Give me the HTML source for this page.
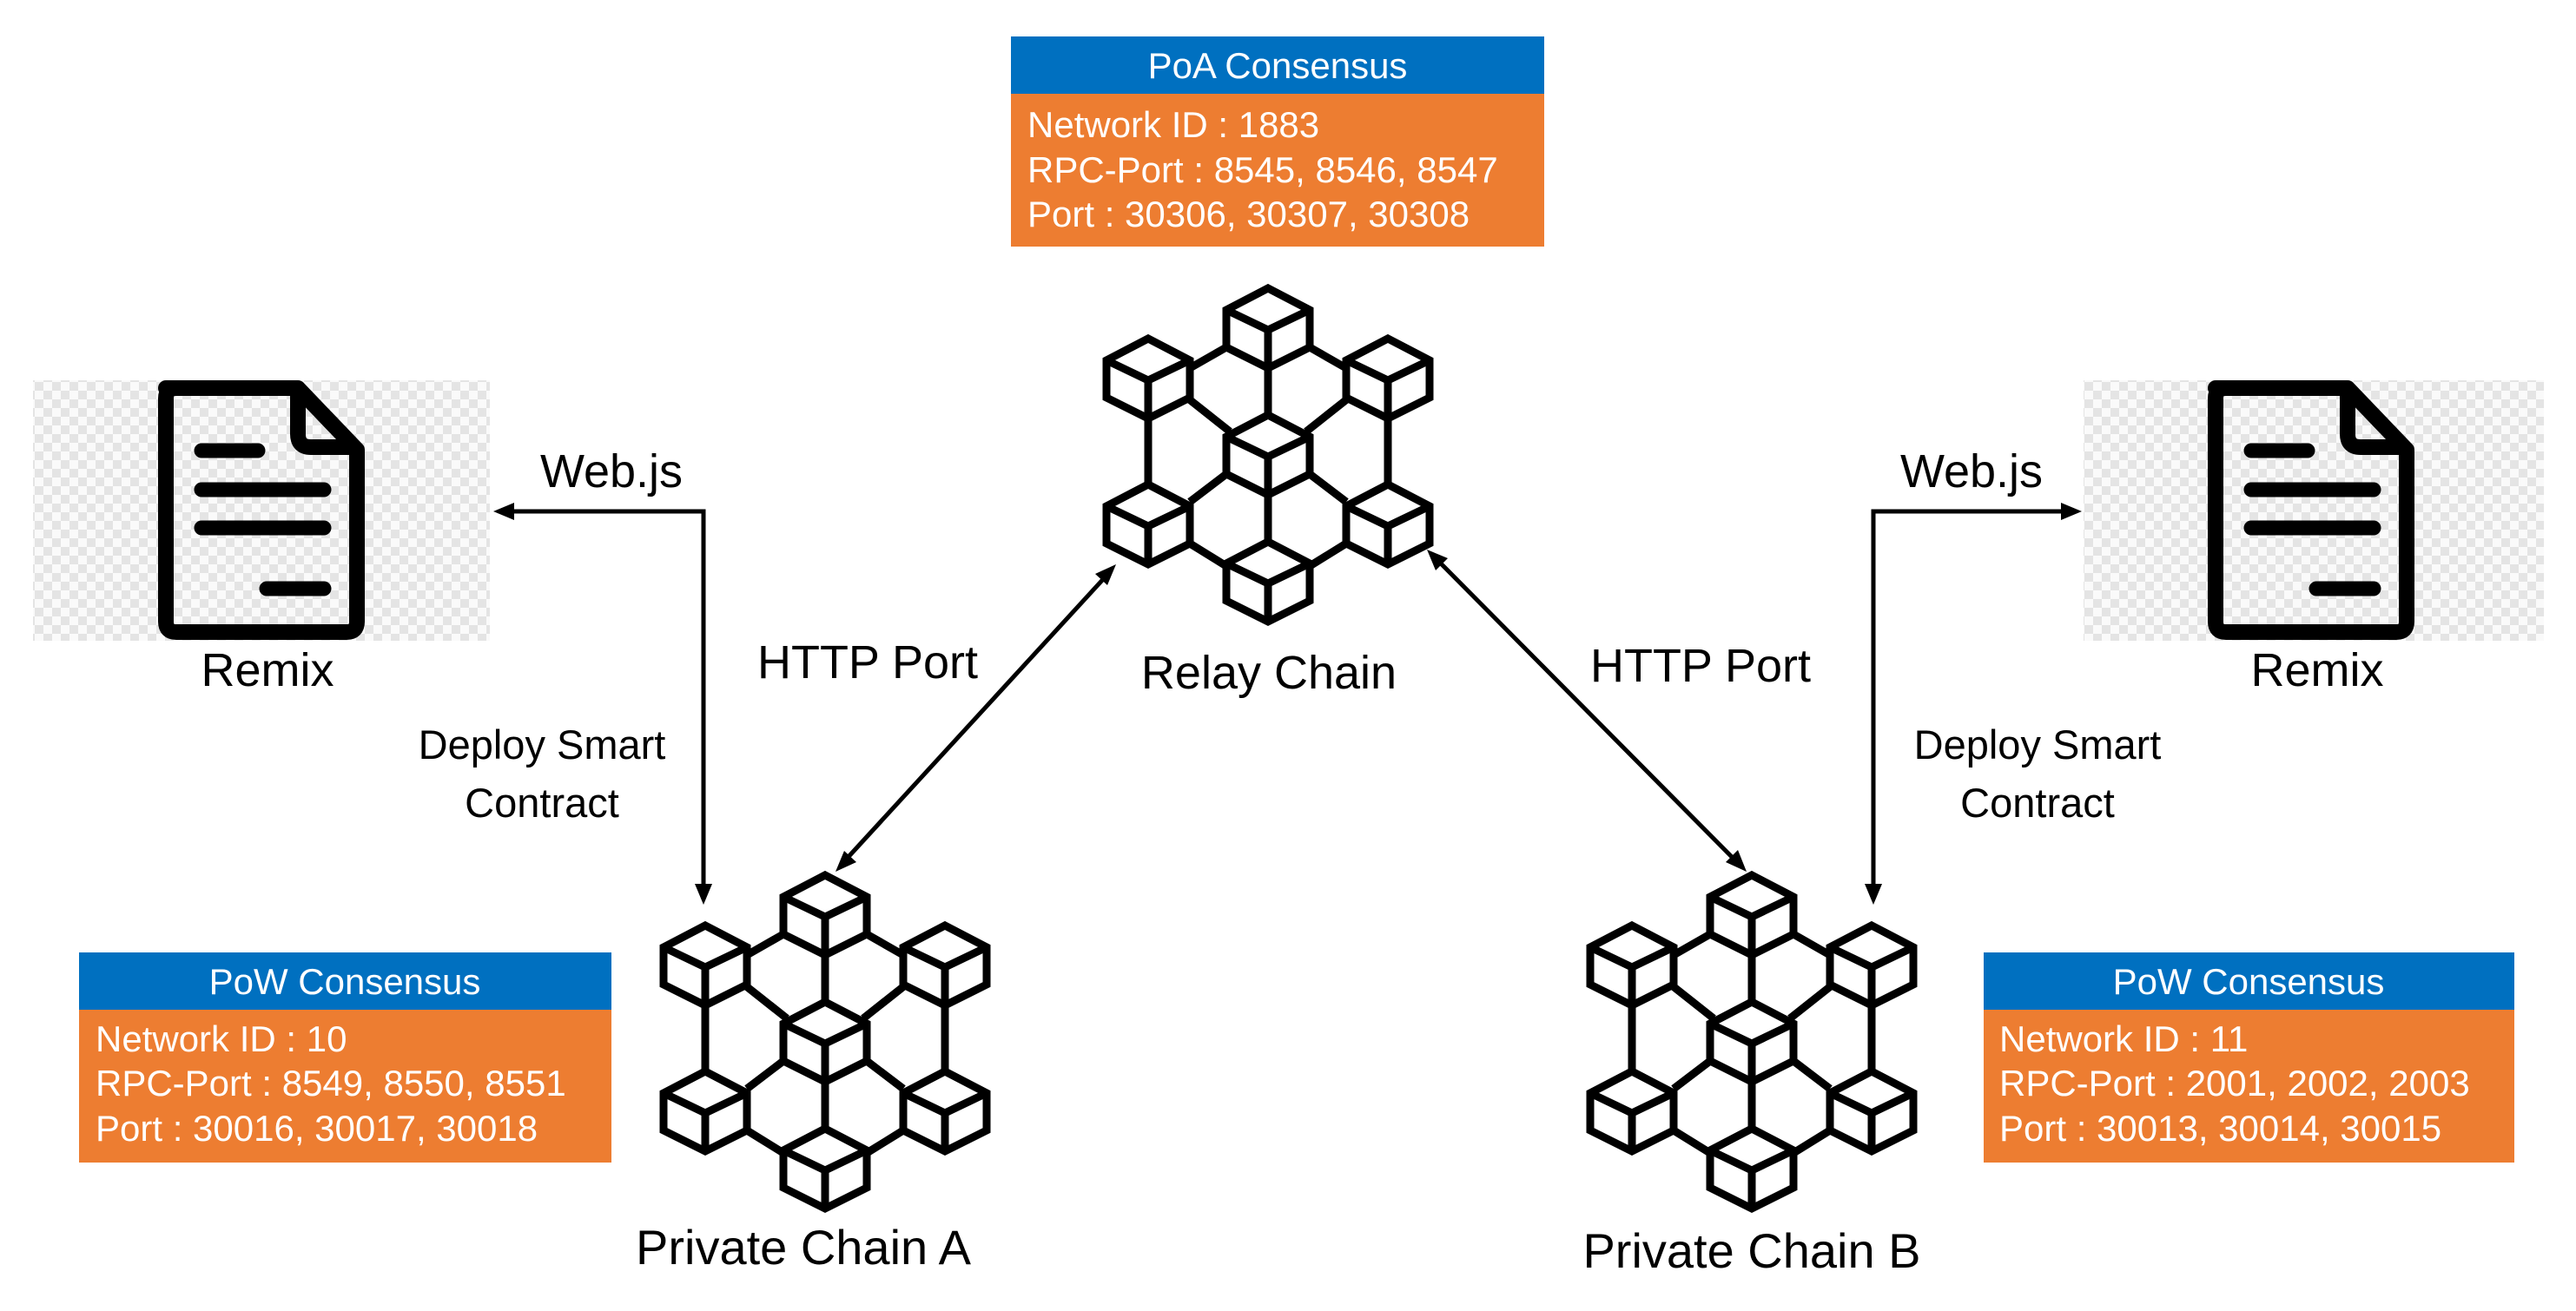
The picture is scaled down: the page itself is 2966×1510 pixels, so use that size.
<!DOCTYPE html>
<html><head><meta charset="utf-8"><style>
html,body{margin:0;padding:0;background:#fff;}
body{width:2966px;height:1505px;overflow:hidden;}
svg text{font-family:"Liberation Sans",sans-serif;}
</style></head><body>
<svg width="2966" height="1505" viewBox="0 0 2966 1505" xmlns="http://www.w3.org/2000/svg">
<defs>
<pattern id="chk" width="20" height="20" patternUnits="userSpaceOnUse">
<rect width="20" height="20" fill="#fafafa"/>
<rect width="10" height="10" fill="#e4e4e4"/>
<rect x="10" y="10" width="10" height="10" fill="#e4e4e4"/>
</pattern>
<g id="cube">
<path d="M0,0 L48,25 L48,68 L0,92 L-48,68 L-48,25 Z" fill="#fff" stroke="#000" stroke-width="9" stroke-linejoin="miter"/>
<path d="M-48,25 L0,48 L48,25 M0,48 L0,92" fill="none" stroke="#000" stroke-width="9"/>
</g>
<g id="chain">
<g stroke="#000" stroke-width="9" fill="none">
<path d="M-48,68 L-90,92 M48,68 L90,92 M0,92 L0,146 M-92,127 L-44,165 M92,127 L44,165 M-138,150 L-138,226 M138,150 L138,226 M-48,214 L-90,246 M48,214 L90,246 M0,238 L0,292 M-90,294 L-48,320 M90,294 L48,320"/>
</g>
<use href="#cube" x="0" y="0"/>
<use href="#cube" x="-138" y="58"/>
<use href="#cube" x="138" y="58"/>
<use href="#cube" x="0" y="146"/>
<use href="#cube" x="-138" y="226"/>
<use href="#cube" x="138" y="226"/>
<use href="#cube" x="0" y="292"/>
</g>
<g id="doc">
<path d="M191,447 L343,447 L411,518 L411,716 Q411,728 399,728 L203,728 Q191,728 191,716 L191,459 Q191,447 203,447 Z" fill="none" stroke="#000" stroke-width="18" stroke-linejoin="round"/>
<path d="M343,447 L343,500 Q343,515 358,515 L411,515" fill="none" stroke="#000" stroke-width="18" stroke-linejoin="round"/>
<g stroke="#000" stroke-width="17" stroke-linecap="round">
<line x1="232" y1="519" x2="297" y2="519"/>
<line x1="232" y1="564" x2="373" y2="564"/>
<line x1="232" y1="608" x2="373" y2="608"/>
<line x1="307" y1="678" x2="373" y2="678"/>
</g>
</g>
</defs>

<rect x="1164" y="42" width="614" height="66" fill="#0070C0"/>
<rect x="1164" y="108" width="614" height="176" fill="#ED7D31"/>
<text x="1471" y="90" font-size="42" fill="#fff" text-anchor="middle">PoA Consensus</text>
<text x="1183" y="158" font-size="42" fill="#fff">Network ID : 1883</text>
<text x="1183" y="210" font-size="42" fill="#fff">RPC-Port : 8545, 8546, 8547</text>
<text x="1183" y="261" font-size="42" fill="#fff">Port : 30306, 30307, 30308</text>

<rect x="91" y="1097" width="613" height="66" fill="#0070C0"/>
<rect x="91" y="1163" width="613" height="176" fill="#ED7D31"/>
<text x="397" y="1145" font-size="42" fill="#fff" text-anchor="middle">PoW Consensus</text>
<text x="110" y="1211" font-size="42" fill="#fff">Network ID : 10</text>
<text x="110" y="1262" font-size="42" fill="#fff">RPC-Port : 8549, 8550, 8551</text>
<text x="110" y="1314" font-size="42" fill="#fff">Port : 30016, 30017, 30018</text>

<rect x="2284" y="1097" width="611" height="66" fill="#0070C0"/>
<rect x="2284" y="1163" width="611" height="176" fill="#ED7D31"/>
<text x="2589" y="1145" font-size="42" fill="#fff" text-anchor="middle">PoW Consensus</text>
<text x="2302" y="1211" font-size="42" fill="#fff">Network ID : 11</text>
<text x="2302" y="1262" font-size="42" fill="#fff">RPC-Port : 2001, 2002, 2003</text>
<text x="2302" y="1314" font-size="42" fill="#fff">Port : 30013, 30014, 30015</text>

<rect x="38" y="438" width="526" height="300" fill="url(#chk)"/>
<use href="#doc"/>
<text x="308" y="790" font-size="54" text-anchor="middle">Remix</text>
<rect x="2399" y="438" width="530" height="300" fill="url(#chk)"/>
<use href="#doc" x="2360"/>
<text x="2668" y="790" font-size="54" text-anchor="middle">Remix</text>

<use href="#chain" transform="translate(1460,332)"/>
<text x="1461" y="793" font-size="54" text-anchor="middle">Relay Chain</text>
<use href="#chain" transform="translate(950,1008)"/>
<text x="925" y="1456" font-size="56" text-anchor="middle">Private Chain A</text>
<use href="#chain" transform="translate(2017,1008)"/>
<text x="2017" y="1460" font-size="56" text-anchor="middle">Private Chain B</text>

<text x="704" y="561" font-size="54" text-anchor="middle">Web.js</text>
<text x="2270" y="561" font-size="54" text-anchor="middle">Web.js</text>
<text x="999" y="781" font-size="54" text-anchor="middle">HTTP Port</text>
<text x="1958" y="785" font-size="54" text-anchor="middle">HTTP Port</text>
<text x="624" y="874" font-size="47" text-anchor="middle">Deploy Smart</text>
<text x="624" y="941" font-size="47" text-anchor="middle">Contract</text>
<text x="2346" y="874" font-size="47" text-anchor="middle">Deploy Smart</text>
<text x="2346" y="941" font-size="47" text-anchor="middle">Contract</text>

<g stroke="#000" stroke-width="5" fill="none">
<path d="M588,589 L810,589 L810,1020"/>
<path d="M2377,589 L2157,589 L2157,1020"/>
<line x1="974" y1="990" x2="1273" y2="664"/>
<line x1="1656" y1="646" x2="1997" y2="990"/>
</g>
<g fill="#000">
<polygon points="568,589 592,579 592,599"/>
<polygon points="810,1042 800,1018 820,1018"/>
<polygon points="2397,589 2373,579 2373,599"/>
<polygon points="2157,1042 2147,1018 2167,1018"/>
<polygon points="962,1004 972,980 986,993"/>
<polygon points="1285,650 1261,661 1275,674"/>
<polygon points="1643,633 1653,657 1667,643"/>
<polygon points="2011,1004 1987,993 2001,979"/>
</g>
</svg>
</body></html>
